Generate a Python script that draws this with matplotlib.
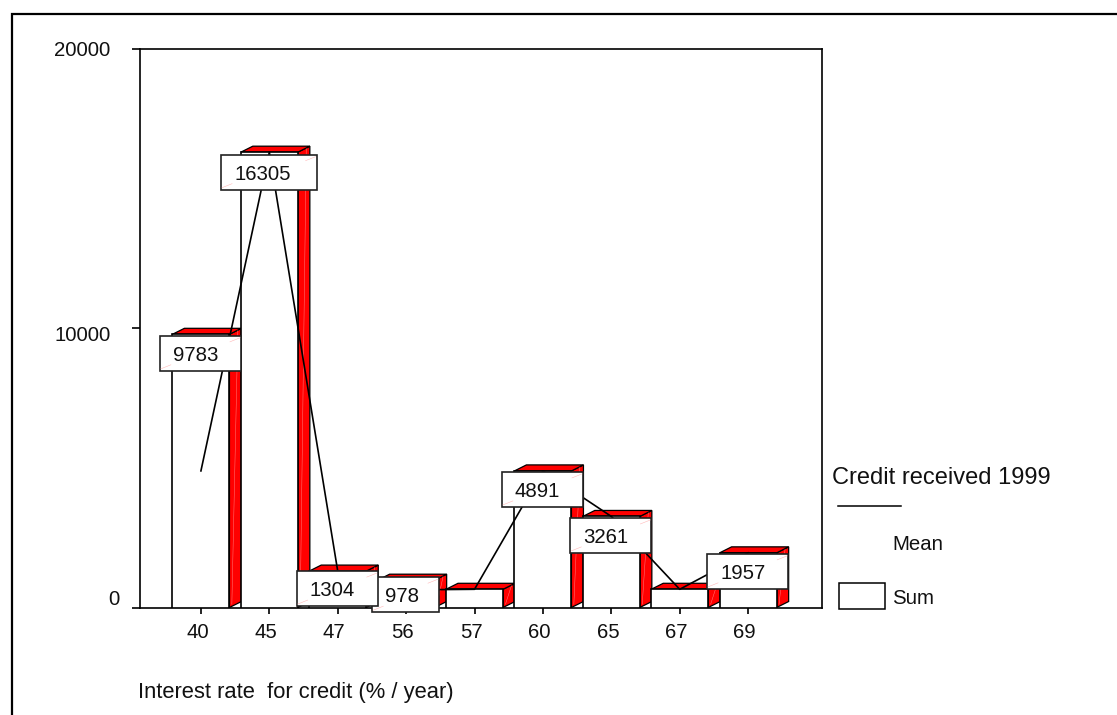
import matplotlib
matplotlib.use("Agg")
import matplotlib.pyplot as plt
from matplotlib.lines import Line2D
from matplotlib.patches import Rectangle, Polygon
from matplotlib.transforms import Affine2D, ScaledTranslation

plt.rcParams['font.family'] = ['Liberation Sans', 'DejaVu Sans']

categories = ['40', '45', '47', '56', '57', '60', '65', '67', '69']
sum_values = [9783, 16305, 1304, 978, 652, 4891, 3261, 652, 1957]
mean_values = [4891, 16305, 1304, 630, 652, 4891, 3261, 652, 1957]
bar_labels = ['9783', '16305', '1304', '978', None, '4891', '3261', None, '1957']
label_gap = [1.5, 2.5, 0, -3, 0, 1, 1.5, 0, 1]
y_ticks = [0, 10000, 20000]
y_tick_labels = ['0', '10000', '20000']
y_label_shift = [(9, 10), (0, -5), (0, 0)]

W, H = 1117, 715
FS = 14.7
INK = '#111111'
RED = '#ff0000'
STREAK = '#ff7c7c'
LW = 1.2
FACE_LW = 0.9

fig = plt.figure(figsize=(W / 100, H / 100), dpi=100, facecolor='white')
ax = fig.add_axes([139.5 / W, (H - 607.5) / H, (822 - 139.5) / W, (607.5 - 49) / H])
ax.set_xlim(-0.898, 9.08)
ax.set_ylim(0, 20000)
for s in ax.spines.values():
    s.set_linewidth(LW)
    s.set_color('black')
    s.set_zorder(1)

px = 1 / 100
ax.set_xticks(range(len(categories)))
ax.set_xticklabels(categories, fontsize=FS, color=INK)
ax.set_yticks(y_ticks)
ax.set_yticklabels(y_tick_labels, fontsize=FS, color=INK)
ax.tick_params(axis='x', length=4.3, width=LW, pad=6.5, color='black')
ax.tick_params(axis='y', length=5.8, width=LW, pad=15, color='black')
for lab in ax.get_xticklabels():
    lab.set_transform(lab.get_transform() + ScaledTranslation(-3.5 * px, 0, fig.dpi_scale_trans))
for lab, (dx, dy) in zip(ax.get_yticklabels(), y_label_shift):
    lab.set_transform(lab.get_transform() + ScaledTranslation(dx * px, dy * px, fig.dpi_scale_trans))

# depth of the 3D effect, 12 px across and 6 px up, expressed in data units
bar_w = 0.834
depth_x = 12 / 68.4
depth_y = 6 / (558.5 / 20000)

for i, v in enumerate(sum_values):
    x0, x1 = i - bar_w / 2, i + bar_w / 2
    z = 2 + i * 0.01
    ax.add_patch(Polygon([(x1, 0), (x1 + depth_x, depth_y), (x1 + depth_x, v + depth_y), (x1, v)],
                         closed=True, fc=RED, ec='black', lw=FACE_LW, zorder=z))
    ax.add_patch(Polygon([(x0, v), (x0 + depth_x, v + depth_y), (x1 + depth_x, v + depth_y), (x1, v)],
                         closed=True, fc=RED, ec='black', lw=FACE_LW, zorder=z))
    # pale sheen left by the gradient on the red faces
    ax.plot([x1 + 0.2 * depth_x, x1 + 0.7 * depth_x], [0.55 * depth_y, v + 0.6 * depth_y],
            color=STREAK, lw=0.35, zorder=z + 0.001)
    ax.bar(i, v, width=bar_w, facecolor='white', edgecolor='black', linewidth=LW, zorder=z + 0.005)

ax.plot(range(len(categories)), mean_values, color='black', lw=LW, zorder=3, clip_on=False)

# value boxes: drawn in pixels around each bar's top; 56 goes below 47
order = [3, 0, 1, 2, 5, 6, 8]
for k, i in enumerate(order):
    txt = bar_labels[i]
    if txt is None:
        continue
    dx, dy = ax.transData.transform((i, sum_values[i]))
    t = Affine2D().translate(dx, dy)
    bw = 23.5 + 14.4 * len(txt)
    bh = 35
    top = -label_gap[i]
    left = -bw / 2 - 0.5
    ax.add_patch(Rectangle((left, top - bh), bw, bh, transform=t, fc='white',
                           ec='#222222', lw=LW, zorder=4 + k * 0.1, clip_on=False))
    ax.plot([left + bw - 11, left + bw - 1], [top - 6, top - 2], transform=t, color='#ffb8b8', lw=0.4,
            zorder=4.02 + k * 0.1, clip_on=False)
    ax.plot([left + 1, left + 11], [top - bh + 2, top - bh + 6], transform=t, color='#ffb8b8', lw=0.4,
            zorder=4.02 + k * 0.1, clip_on=False)
    ax.text(left + 13, top - bh / 2, txt, transform=t, fontsize=FS, color=INK,
            ha='left', va='center_baseline', zorder=4.05 + k * 0.1, clip_on=False)

ax.set_xlim(-0.898, 9.08)
ax.set_ylim(0, 20000)

# page frame: left and top rules only
def fx(x):
    return x / W
def fy(y):
    return (H - y) / H

fig.add_artist(Line2D([fx(12.3), fx(12.3), fx(1117)], [fy(715), fy(14.2), fy(14.2)],
                      color='black', lw=1.6, solid_joinstyle='miter'))

# axis title and legend
fig.text(fx(138), fy(690), 'Interest rate  for credit (% / year)', fontsize=15.8, color=INK,
         ha='left', va='center_baseline')
fig.text(fx(832), fy(475), 'Credit received 1999', fontsize=17, color=INK, ha='left', va='center_baseline')
fig.add_artist(Line2D([fx(838), fx(901)], [fy(505.7), fy(505.7)], color='black', lw=1.1))
fig.text(fx(892), fy(542), 'Mean', fontsize=FS, color=INK, ha='left', va='center_baseline')
fig.add_artist(Rectangle((fx(839), fy(609)), (885 - 839) / W, (609 - 583) / H, transform=fig.transFigure,
                         fc='white', ec='black', lw=1.1))
fig.text(fx(892), fy(597), 'Sum', fontsize=FS, color=INK, ha='left', va='center_baseline')

fig.savefig('out.png', dpi=100, facecolor='white')
